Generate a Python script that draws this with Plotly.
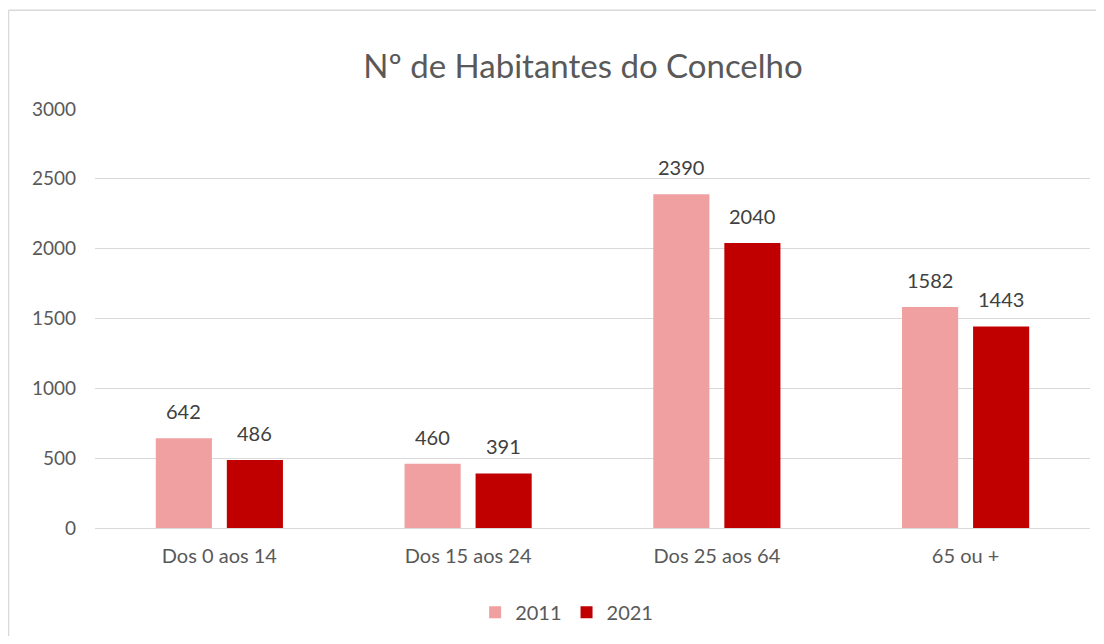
import plotly.graph_objects as go

categories = ["Dos 0 aos 14", "Dos 15 aos 24", "Dos 25 aos 64", "65 ou +"]
series_names = ["2011", "2021"]
values_2011 = [642, 460, 2390, 1582]
values_2021 = [486, 391, 2040, 1443]
colors = ["#F0A0A0", "#C00000"]
y_ticks = [0, 500, 1000, 1500, 2000, 2500, 3000]

FONT = "Lato"
fig = go.Figure()
for name, vals, col in zip(series_names, [values_2011, values_2021], colors):
    fig.add_trace(go.Bar(x=categories, y=vals, name=name, marker_color=col,
                         marker_line_width=0))

annotations = []
for shift, vals in zip([-35.5, 35.5], [values_2011, values_2021]):
    for c, v in zip(categories, vals):
        annotations.append(dict(x=c, y=v, xref="x", yref="y", text=str(v),
                                showarrow=False, xshift=shift, yanchor="bottom", yshift=13,
                                font=dict(family=FONT, size=20, color="#404040")))

W, H = 1088, 628
bx0 = (8.5 - 95) / 995
bx1 = (1096 - 95) / 995
by0 = (529 - 640) / 420
by1 = (529 - 10) / 420
border = dict(color="#D9D9D9", width=1.5)
fig.update_layout(
    width=W, height=H,
    margin=dict(l=87, r=6, t=101, b=107),
    paper_bgcolor="white", plot_bgcolor="white",
    barmode="group", bargap=0.429, bargroupgap=0.21,
    title=dict(text="Nº de Habitantes do Concelho", x=(583 - 8) / W, xanchor="center",
               y=(H - 58) / H, yanchor="middle",
               font=dict(family=FONT, size=33, color="#595959")),
    legend=dict(orientation="h", x=0.474, xanchor="center", y=-0.198, yanchor="middle",
                font=dict(family=FONT, size=20, color="#595959"), traceorder="normal",
                itemwidth=30),
    annotations=annotations,
    shapes=[
        dict(type="line", xref="paper", yref="paper", x0=bx0, x1=bx1, y0=by1, y1=by1,
             line=border, layer="below"),
        dict(type="line", xref="paper", yref="paper", x0=bx0, x1=bx0, y0=by0, y1=by1,
             line=border, layer="below"),
    ],
    showlegend=True,
)
fig.update_xaxes(showgrid=False, showline=False, ticks="", ticklabelstandoff=14,
                 tickfont=dict(family=FONT, size=20, color="#595959"))
fig.update_yaxes(range=[0, 3000], tickvals=y_ticks, showgrid=True, gridcolor="#D9D9D9",
                 gridwidth=1.3, zeroline=True, zerolinecolor="#D9D9D9", zerolinewidth=1.3,
                 showline=False, ticks="", ticklabelstandoff=18,
                 tickfont=dict(family=FONT, size=19, color="#595959"))
fig.write_html("out.html")
